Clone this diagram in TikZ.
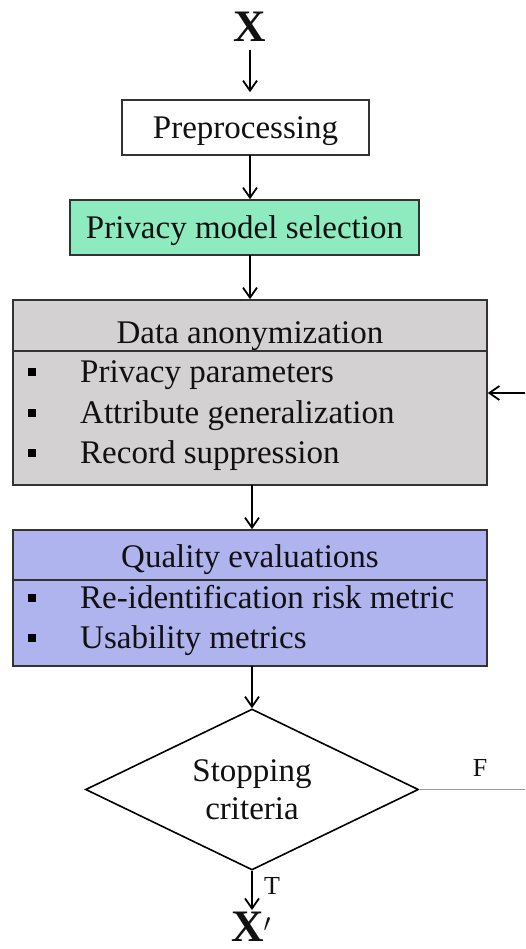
\documentclass[tikz,border=0pt]{standalone}
\usepackage{fontspec}
\setmainfont{Liberation Serif}
\usetikzlibrary{arrows.meta,shapes.geometric}
\definecolor{boxline}{HTML}{333333}
\definecolor{greenfill}{HTML}{8EEBBF}
\definecolor{grayfill}{HTML}{D3D1D1}
\definecolor{bluefill}{HTML}{AFB3EE}
\definecolor{txt}{HTML}{111111}
\tikzset{
  mainfont/.style={font=\fontsize{33}{38}\selectfont, text=txt},
  boxed/.style={draw=boxline, line width=1.6pt, rectangle, inner sep=0pt, mainfont, text height=22pt, text depth=0pt},
  arr/.style={draw=black, line width=1.8pt, -{Straight Barb[length=10pt,width=14pt,line width=1.8pt]}},
  bul/.style={fill=black, rectangle, inner sep=0pt, minimum size=8.5pt},
  item/.style={mainfont, anchor=base west, inner sep=0pt},
  title/.style={mainfont, anchor=base, inner sep=0pt},
  lbl/.style={font=\fontsize{26}{26}\selectfont, text=txt, inner sep=0pt},
  big/.style={font=\bfseries\fontsize{45}{45}\selectfont, text=txt, inner sep=0pt}
}
\begin{document}
\begin{tikzpicture}[x=1pt,y=-1pt]
\useasboundingbox (0,0) rectangle (525,949);
% boxes
\node[big, anchor=base] (xin) at (250,42) {X};
\node[boxed, fill=white, minimum width=247pt, minimum height=55pt] (prep) at (245.5,127.5) {Preprocessing};
\node[boxed, fill=greenfill, minimum width=349pt, minimum height=55pt] (priv) at (244.5,227.5) {Privacy model selection};
\node[boxed, fill=grayfill, minimum width=474pt, minimum height=185pt] (anon) at (250,392.5) {};
\node[boxed, fill=bluefill, minimum width=474pt, minimum height=136pt] (qual) at (250,598) {};
\node[draw=black, line width=1.6pt, diamond, aspect=2.07, inner sep=0pt, minimum width=333pt, minimum height=161pt, mainfont, align=center] (stop) at (252,789.5) {Stopping\\criteria};
\node[big, anchor=base] (xout) at (251,941) {X$'$};
% dividers
\coordinate (anondivL) at (13,351);
\coordinate (anondivR) at (487,351);
\draw[boxline, line width=1.6pt] (anondivL) -- (anondivR);
\coordinate (qualdivL) at (13,580);
\coordinate (qualdivR) at (487,580);
\draw[boxline, line width=1.6pt] (qualdivL) -- (qualdivR);
% titles and items
\node[title] (anont) at (250,343) {Data anonymization};
\node[item] (a1) at (80,382) {Privacy parameters};
\node[item] (a2) at (80,423) {Attribute generalization};
\node[item] (a3) at (80,463) {Record suppression};
\node[bul] (b1) at (32,372) {};
\node[bul] (b2) at (32,413) {};
\node[bul] (b3) at (32,453) {};
\node[title] (qualt) at (250,567) {Quality evaluations};
\node[item] (q1) at (80,608) {Re-identification risk metric};
\node[item] (q2) at (80,648) {Usability metrics};
\node[bul] (c1) at (32,598) {};
\node[bul] (c2) at (32,638) {};
% connectors
\coordinate (p1) at (250,50);
\draw[arr, shorten >=7pt] (p1) -- (p1 |- prep.north);
\coordinate (p2) at (250,155);
\draw[arr] (p2) -- (p2 |- priv.north);
\coordinate (p3) at (250,255);
\draw[arr] (p3) -- (p3 |- anon.north);
\coordinate (p4) at (252,485);
\draw[arr] (p4) -- (p4 |- qual.north);
\coordinate (p5) at (252,666);
\draw[arr] (p5) -- (stop.north);
\coordinate (p6) at (252,910);
\draw[arr] (stop.south) -- (p6);
\coordinate (fend) at (525,789.5);
\draw[draw=gray!80, line width=1.3pt] (stop.east) -- (fend);
\coordinate (back) at (525,393);
\draw[arr] (back) -- (anon.east |- back);
\node[lbl] (flbl) at (480,768) {F};
\node[lbl] (tlbl) at (272,886) {T};
\end{tikzpicture}
\end{document}
